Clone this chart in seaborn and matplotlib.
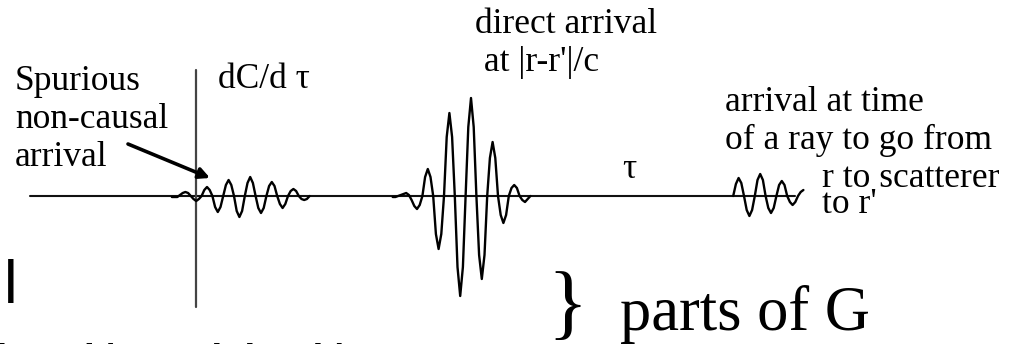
import numpy as np
import pandas as pd
import matplotlib
matplotlib.use("Agg")
import matplotlib.pyplot as plt
import seaborn as sns

sns.set_theme(style="white")
plt.rcParams["font.family"] = ["Liberation Serif", "DejaVu Serif"]
plt.rcParams["text.color"] = "black"

# Sampling interval of the traces (lag units)
DT = 2.7

# dC/dtau amplitudes, one value per sample
noncausal_start = -24.1
noncausal = [-1, -1, -1, 1, 3, 4, 3, 0, -3, -5, -3, 0, 6, 9, 6, 0,
             -11, -16, -11, 0, 11, 16, 11, 0, -15, -21, -15, 0, 13, 19, 13, 0,
             -12, -17, -12, 0, 10, 14, 10, 0, -8, -12, -8, 0, 5, 7, 5, 0,
             -3, -4, -3, 0]

direct_start = 196.7
direct = [-1, -1, 0, 1, 2, 3, 1, -4, -10, -13, -9, 0, 19, 27, 19, 0,
          -38, -53, -38, 0, 59, 83, 59, 0, -71, -100, -71, 0, 69, 98, 69, 0,
          -59, -83, -59, 0, 38, 54, 38, 0, -19, -27, -19, 0, 8, 11, 8, 0,
          -4, -6, -3, 0]

scattered_start = 537.2
scattered = [0, 12, 18, 13, 0, -14, -20, -14, 0, 16, 22, 16, 0, -12, -17, -12,
             0, 11, 15, 11, 0, -6, -9, -6, 0, 4, 6]

# Extent of the lag axis and of the amplitude axis
baseline_tau = [-166, 599]
axis_amp = [126, -111]


def trace(start, values, name):
    tau = start + DT * np.arange(len(values))
    return pd.DataFrame({"tau": tau, "amp": values, "part": name})


fig = plt.figure(figsize=(10.29, 3.44), dpi=100)
ax = fig.add_axes([0, 0, 1, 1])
ax.set_xlim(-196, 833)
ax.set_ylim(-148, 196)
ax.axis("off")

# axes of the correlation plot
ax.plot(baseline_tau, [0, 0], color="#111111", lw=1.5, zorder=1)
ax.plot([0, 0], axis_amp, color="#444444", lw=1.6, zorder=1)

for start, vals, name in [(noncausal_start, noncausal, "noncausal"),
                          (direct_start, direct, "direct"),
                          (scattered_start, scattered, "scattered")]:
    df = trace(start, vals, name)
    sns.lineplot(data=df, x="tau", y="amp", ax=ax, color="black", lw=1.7,
                 sort=False, estimator=None, legend=False, zorder=2)

fs = 25.5
ax.text(-181, 30, "Spurious\nnon-causal\narrival", fontsize=fs,
        va="baseline", ha="left", linespacing=1.2)
ax.annotate("", xy=(14, 18), xytext=(-68, 52),
            arrowprops=dict(arrowstyle="-|>", lw=2.6, color="black",
                            mutation_scale=16, shrinkA=0, shrinkB=0))
ax.text(22, 108, "dC/d τ", fontsize=fs, va="baseline", ha="left")
ax.text(279, 125, "direct arrival\n at |r-r'|/c", fontsize=fs,
        va="baseline", ha="left", linespacing=1.2)
ax.text(426, 18, "τ", fontsize=fs, va="baseline", ha="left")
ax.text(529, 47, "arrival at time\nof a ray to go from", fontsize=fs,
        va="baseline", ha="left", linespacing=1.2)
ax.text(626, 9, "r to scatterer", fontsize=fs, va="baseline", ha="left")
ax.text(626, -17, "to r'", fontsize=fs, va="baseline", ha="left")

ax.text(351, -133, "}", fontsize=60, va="baseline", ha="left")
ax.text(424, -134, "parts of G", fontsize=45, va="baseline", ha="left")

# slide text running behind the plot
ax.text(-192, -107, "l", fontsize=44, family="Liberation Sans",
        va="baseline", ha="left")
ax.text(-202, -191, "bed/", fontsize=44, family="Liberation Sans",
        va="baseline", ha="left")
ax.text(13, -191, "bind/", fontsize=44, family="Liberation Sans",
        va="baseline", ha="left")

fig.savefig("out.png", dpi=100, facecolor="white")
